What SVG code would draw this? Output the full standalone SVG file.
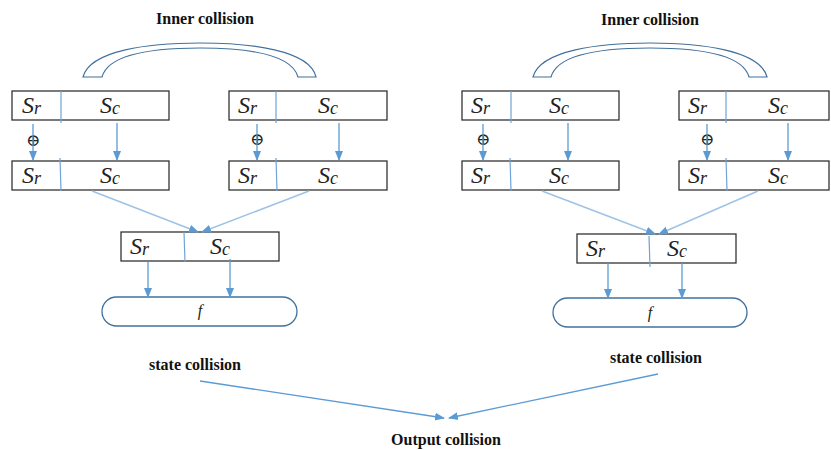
<svg xmlns="http://www.w3.org/2000/svg" width="831" height="450" viewBox="0 0 831 450">
<style>
.lbl{font-family:'Liberation Serif','DejaVu Serif',serif;font-weight:bold;font-size:16px;fill:#111;text-anchor:middle}
.box{fill:#fff;stroke:#333;stroke-width:1.3}
.div{stroke:#6fa3d6;stroke-width:1.2}
.s{font-family:'Liberation Serif','DejaVu Serif',serif;font-style:italic;font-size:24px;fill:#222}
.sub{font-size:18px}
.arr{stroke:#5b9bd5;stroke-width:1.3;fill:none;marker-end:url(#ah)}
.conv{stroke:#9dc3e6;stroke-width:1.5;fill:none;marker-end:url(#ah)}
.arch{fill:#fff;stroke:#41719c;stroke-width:1.2}
.f{fill:#fff;stroke:#41719c;stroke-width:1.3}
.fx{font-family:'Liberation Serif','DejaVu Serif',serif;font-style:italic;font-size:16px;fill:#222;text-anchor:middle}
.op{font-family:'DejaVu Serif',serif;font-size:17px;fill:#222;text-anchor:middle}
</style>
<defs>
<marker id="ah" markerUnits="userSpaceOnUse" markerWidth="10" markerHeight="10" viewBox="0 0 10 10" refX="9" refY="5" orient="auto">
<path d="M0,1 L10,5 L0,9 Z" fill="#5b9bd5"/>
</marker>
</defs>

<g id="labels">
<text class="lbl" x="205" y="24">Inner collision</text>
<text class="lbl" x="650" y="25">Inner collision</text>
<text class="lbl" x="195" y="370">state collision</text>
<text class="lbl" x="656" y="363">state collision</text>
<text class="lbl" x="446" y="445">Output collision</text>
</g>

<g id="arch-left">
<path class="arch" d="M83,77 C90,50 150,43 200,43 C250,43 310,50 316,77 L298,77 C292,55 250,48 200,48 C150,48 108,55 102,77 Z"/>
</g>
<g id="arch-right">
<path class="arch" d="M533,77 C540,50 600,43 650,43 C700,43 760,50 767,77 L749,77 C743,55 700,48 650,48 C600,48 557,55 551,77 Z"/>
</g>

<g id="box-L1">
<rect class="box" x="12" y="91" width="157" height="29"/>
<line class="div" x1="61" y1="91" x2="61" y2="123"/>
<text class="s" x="22" y="113">S<tspan class="sub" dy="1">r</tspan></text>
<text class="s" x="100" y="113">S<tspan class="sub" dy="1">c</tspan></text>
</g>
<g id="box-L2">
<rect class="box" x="229" y="91" width="158" height="29"/>
<line class="div" x1="276" y1="91" x2="276" y2="123"/>
<text class="s" x="238" y="113">S<tspan class="sub" dy="1">r</tspan></text>
<text class="s" x="318" y="113">S<tspan class="sub" dy="1">c</tspan></text>
</g>
<g id="box-L3">
<rect class="box" x="12" y="161" width="157" height="29"/>
<line class="div" x1="60" y1="158" x2="61" y2="191"/>
<text class="s" x="22" y="183">S<tspan class="sub" dy="1">r</tspan></text>
<text class="s" x="100" y="183">S<tspan class="sub" dy="1">c</tspan></text>
</g>
<g id="box-L4">
<rect class="box" x="229" y="161" width="158" height="29"/>
<line class="div" x1="276" y1="158" x2="277" y2="191"/>
<text class="s" x="238" y="183">S<tspan class="sub" dy="1">r</tspan></text>
<text class="s" x="318" y="183">S<tspan class="sub" dy="1">c</tspan></text>
</g>
<g id="box-L5">
<rect class="box" x="121" y="232" width="158" height="29"/>
<line class="div" x1="184" y1="232" x2="185" y2="262"/>
<text class="s" x="130" y="254">S<tspan class="sub" dy="1">r</tspan></text>
<text class="s" x="210" y="254">S<tspan class="sub" dy="1">c</tspan></text>
</g>
<g id="f-L">
<rect class="f" x="102" y="297" width="195" height="29" rx="14.5"/>
<text class="fx" x="200" y="316">f</text>
</g>

<g id="box-R1">
<rect class="box" x="462" y="91" width="157" height="29"/>
<line class="div" x1="511" y1="91" x2="511" y2="123"/>
<text class="s" x="471" y="113">S<tspan class="sub" dy="1">r</tspan></text>
<text class="s" x="549" y="113">S<tspan class="sub" dy="1">c</tspan></text>
</g>
<g id="box-R2">
<rect class="box" x="679" y="91" width="150" height="29"/>
<line class="div" x1="726" y1="91" x2="726" y2="123"/>
<text class="s" x="688" y="113">S<tspan class="sub" dy="1">r</tspan></text>
<text class="s" x="768" y="113">S<tspan class="sub" dy="1">c</tspan></text>
</g>
<g id="box-R3">
<rect class="box" x="462" y="161" width="157" height="29"/>
<line class="div" x1="510" y1="158" x2="511" y2="191"/>
<text class="s" x="471" y="183">S<tspan class="sub" dy="1">r</tspan></text>
<text class="s" x="549" y="183">S<tspan class="sub" dy="1">c</tspan></text>
</g>
<g id="box-R4">
<rect class="box" x="679" y="161" width="150" height="29"/>
<line class="div" x1="726" y1="158" x2="727" y2="191"/>
<text class="s" x="688" y="183">S<tspan class="sub" dy="1">r</tspan></text>
<text class="s" x="768" y="183">S<tspan class="sub" dy="1">c</tspan></text>
</g>
<g id="box-R5">
<rect class="box" x="577" y="234" width="159" height="29"/>
<line class="div" x1="649" y1="236" x2="650" y2="267"/>
<text class="s" x="586" y="256">S<tspan class="sub" dy="1">r</tspan></text>
<text class="s" x="667" y="256">S<tspan class="sub" dy="1">c</tspan></text>
</g>
<g id="f-R">
<rect class="f" x="553" y="298" width="194" height="29" rx="14.5"/>
<text class="fx" x="650" y="318">f</text>
</g>

<g id="xor">
<text class="op" x="33" y="146">⊕</text>
<text class="op" x="257" y="145">⊕</text>
<text class="op" x="483" y="145">⊕</text>
<text class="op" x="707" y="145">⊕</text>
</g>

<g id="connectors">
<line class="arr" x1="33" y1="124" x2="33" y2="160"/>
<line class="arr" x1="117" y1="123" x2="117" y2="160"/>
<line class="arr" x1="257" y1="124" x2="257" y2="160"/>
<line class="arr" x1="339" y1="123" x2="339" y2="160"/>
<line class="arr" x1="483" y1="124" x2="483" y2="160"/>
<line class="arr" x1="568" y1="123" x2="568" y2="160"/>
<line class="arr" x1="707" y1="124" x2="707" y2="160"/>
<line class="arr" x1="788" y1="123" x2="788" y2="160"/>
<line class="conv" x1="92" y1="191" x2="198" y2="232"/>
<line class="conv" x1="309" y1="191" x2="202" y2="232"/>
<line class="conv" x1="542" y1="191" x2="655" y2="234"/>
<line class="conv" x1="758" y1="191" x2="659" y2="234"/>
<line class="arr" x1="148" y1="262" x2="148" y2="297"/>
<line class="arr" x1="230" y1="259" x2="230" y2="297"/>
<line class="arr" x1="608" y1="263" x2="608" y2="298"/>
<line class="arr" x1="682" y1="263" x2="682" y2="298"/>
<line class="arr" x1="200" y1="381" x2="444" y2="418"/>
<line class="arr" x1="658" y1="374" x2="449" y2="418"/>
</g>
</svg>
